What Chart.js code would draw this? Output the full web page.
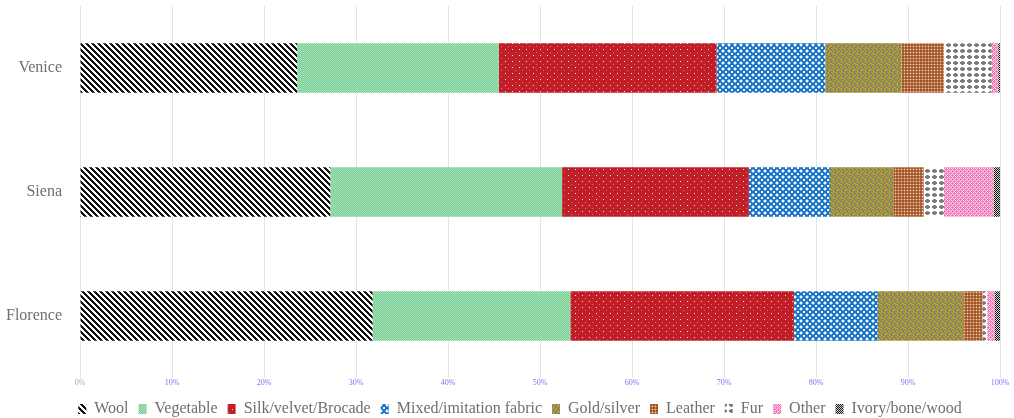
<!DOCTYPE html>
<html>
<head>
<meta charset="utf-8">
<script src="https://cdn.jsdelivr.net/npm/chart.js@4"></script>
<style>
  html, body { margin: 0; padding: 0; background: #fff; }
  #wrap { width: 1014px; height: 418px; }
</style>
</head>
<body>
<div id="wrap"><canvas id="materials"></canvas></div>
<script>
const cities = ['Venice', 'Siena', 'Florence']
const materials = ['Wool', 'Vegetable', 'Silk/velvet/Brocade', 'Mixed/imitation fabric',
    'Gold/silver', 'Leather', 'Fur', 'Other', 'Ivory/bone/wood']

// share of each material, in percent, per city (Venice, Siena, Florence)
const wool      = [23.6, 27.2, 31.8]
const vegetable = [21.9, 25.2, 21.5]
const silk      = [23.7, 20.3, 24.3]
const mixed     = [11.8, 8.8, 9.1]
const gold      = [8.3, 6.9, 9.3]
const leather   = [4.6, 3.3, 2.1]
const fur       = [5.2, 2.2, 0.5]
const other     = [0.7, 5.4, 0.8]
const ivory     = [0.2, 0.7, 0.6]

const xTicks = ['0%', '10%', '20%', '30%', '40%', '50%', '60%', '70%', '80%', '90%', '100%']

// small pixel tiles turned into canvas patterns
function tile(rows, colors) {
    const c = document.createElement('canvas')
    c.width = rows[0].length
    c.height = rows.length
    const g = c.getContext('2d')
    for (var y = 0; y < rows.length; y++) {
        for (var x = 0; x < rows[y].length; x++) {
            g.fillStyle = colors[rows[y][x]]
            g.fillRect(x, y, 1, 1)
        }
    }
    return g.createPattern(c, 'repeat')
}

function stripes() {
    var rows = []
    for (var y = 0; y < 6; y++) {
        var r = ''
        for (var x = 0; x < 6; x++) {
            r += (((x - y) % 6 + 6) % 6) < 3 ? 'k' : 'w'
        }
        rows.push(r)
    }
    return tile(rows, {k: '#111', w: '#fff'})
}

const patterns = [
    stripes(),
    tile(['ab', 'ba'], {a: '#a2e1b6', b: '#7ccf97'}),
    tile(['rrrrrrr', 'rwrrrrr', 'rrrrrrr', 'rrrrrrr', 'rrrrprr', 'rrrrrrr'],
         {r: '#c11f27', w: '#f6dede', p: '#de7076'}),
    tile(['wBBBBw', 'BBLLBB', 'BLwwLB', 'BLwwLB', 'BBLLBB', 'wBBBBw'],
         {w: '#f2f7fc', B: '#1a72c2', L: '#6aaae0'}),
    tile(['yygyyggy', 'gyggyygg', 'ygyyggyg', 'ggyggyyy', 'yyggyygy', 'gyyggygg'],
         {y: '#b8a72c', g: '#807b68'}),
    tile(['bmb', 'mlm', 'bmb'], {b: '#a4552a', m: '#b87850', l: '#f0cfae'}),
    tile(['.......', '..gGg..', '.GGGGG.', '.GGGGG.', '..gGg..', '.......'],
         {'.': '#fff', g: '#a0a0a0', G: '#7a7a7a'}),
    tile(['pwpw', 'wppp', 'pwpw', 'ppwp'], {p: '#f07cba', w: '#fcd3e8'}),
    tile(['kw', 'wk'], {k: '#111', w: '#d8d8d8'})
]

const series = [wool, vegetable, silk, mixed, gold, leather, fur, other, ivory]

const datasets = materials.map(function (name, i) {
    return {
        label: name,
        data: series[i],
        backgroundColor: patterns[i],
        borderWidth: 0,
        categoryPercentage: 0.8,
        barPercentage: 0.5
    }
})

const serif = '"Liberation Serif", "Times New Roman", serif'

// nudge the legend row a little to the right of the canvas centre
const legendShift = {
    id: 'legendShift',
    afterLayout: function (chart) {
        chart.legend.left += 18
        chart.legend.right += 18
    }
}

new Chart(document.getElementById('materials'), {
    type: 'bar',
    data: { labels: cities, datasets: datasets },
    plugins: [legendShift],
    options: {
        indexAxis: 'y',
        responsive: true,
        maintainAspectRatio: false,
        animation: false,
        layout: { padding: { top: 6, left: 4, right: 14, bottom: -9 } },
        scales: {
            x: {
                stacked: true,
                min: 0,
                max: 100,
                border: { display: false },
                grid: { color: '#e4e4e4', drawTicks: false },
                ticks: {
                    stepSize: 10,
                    padding: 0,
                    font: { family: serif, size: 8 },
                    color: function (c) { return c.index === 0 ? '#a4a4c4' : '#7676f6' },
                    callback: function (v, i) { return xTicks[i] }
                },
                afterFit: function (scale) { scale.height = 13 }
            },
            y: {
                stacked: true,
                grid: { display: false, drawTicks: false },
                border: { color: '#e4e4e4' },
                ticks: {
                    padding: 18,
                    font: { family: serif, size: 16 },
                    color: '#6e6e6e'
                },
                afterFit: function (scale) {
                    scale.width = 76
                    scale.paddingTop = 0
                    scale.paddingBottom = 0
                }
            }
        },
        plugins: {
            tooltip: { enabled: false },
            legend: {
                position: 'bottom',
                labels: {
                    boxWidth: 8,
                    boxHeight: 10,
                    padding: 10,
                    font: { family: serif, size: 16 },
                    color: '#6e6e6e'
                }
            }
        }
    }
})
</script>
</body>
</html>
